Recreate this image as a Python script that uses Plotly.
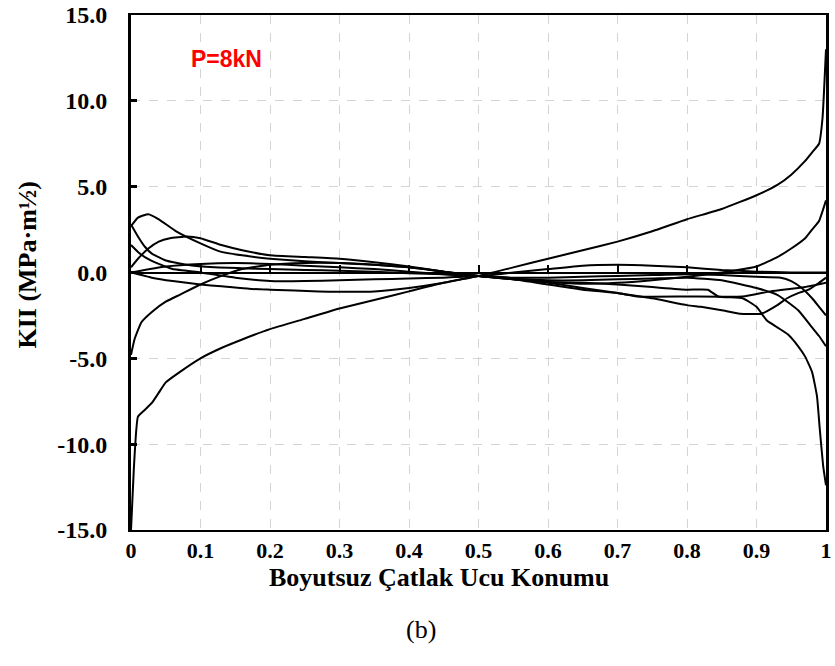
import plotly.graph_objects as go

# x tick labels
x_ticks = [0, 0.1, 0.2, 0.3, 0.4, 0.5, 0.6, 0.7, 0.8, 0.9, 1.0]
x_tick_text = ["0", "0.1", "0.2", "0.3", "0.4", "0.5", "0.6", "0.7", "0.8", "0.9", "1"]
y_ticks = [-15, -10, -5, 0, 5, 10, 15]
y_tick_text = ["-15.0", "-10.0", "-5.0", "0.0", "5.0", "10.0", "15.0"]

# curve A: -15 -> 13
x_a = [0, 0.004, 0.01, 0.02, 0.03, 0.04, 0.05, 0.07, 0.1, 0.13, 0.16, 0.2, 0.25, 0.3, 0.35, 0.4,
       0.45, 0.5, 0.55, 0.6, 0.65, 0.7, 0.75, 0.8, 0.85, 0.9, 0.93, 0.95, 0.97, 0.98, 0.99, 0.995, 1.0]
y_a = [-15, -11.5, -8.4, -8.0, -7.6, -7.0, -6.4, -5.8, -5.0, -4.4, -3.9, -3.3, -2.7, -2.1, -1.6, -1.1,
       -0.6, -0.2, 0.3, 0.8, 1.3, 1.8, 2.4, 3.1, 3.7, 4.5, 5.1, 5.7, 6.5, 7.0, 7.5, 9.0, 13.0]

# curve B: -4.8 -> 4.2
x_b = [0, 0.005, 0.015, 0.03, 0.05, 0.07, 0.1, 0.13, 0.16, 0.2, 0.25, 0.3, 0.35, 0.4, 0.45, 0.5,
       0.55, 0.6, 0.65, 0.7, 0.75, 0.8, 0.85, 0.9, 0.93, 0.95, 0.97, 0.98, 0.99, 1.0]
y_b = [-4.8, -3.9, -2.9, -2.3, -1.7, -1.3, -0.7, -0.2, 0.2, 0.45, 0.55, 0.55, 0.45, 0.3, 0.05, -0.2,
       -0.4, -0.55, -0.65, -0.6, -0.45, -0.25, 0.0, 0.35, 0.9, 1.4, 2.0, 2.5, 3.0, 4.2]

# curve C: peak 3.4 near the left end, -12.4 at the right end
x_c = [0, 0.01, 0.025, 0.04, 0.065, 0.1, 0.13, 0.16, 0.2, 0.25, 0.3, 0.35, 0.4, 0.45, 0.5, 0.55,
       0.6, 0.65, 0.7, 0.75, 0.8, 0.83, 0.845, 0.88, 0.9, 0.915, 0.93, 0.945, 0.96, 0.97, 0.98,
       0.987, 0.991, 0.996, 1.0]
y_c = [2.7, 3.2, 3.4, 3.1, 2.4, 1.7, 1.2, 1.0, 0.8, 0.65, 0.55, 0.45, 0.3, 0.05, -0.2, -0.4,
       -0.55, -0.6, -0.7, -0.85, -1.0, -1.0, -1.4, -1.5, -2.0, -2.8, -3.2, -3.6, -4.3, -4.9, -5.8,
       -7.2, -9.1, -11.3, -12.4]

# curve D: 0.3 -> hump 2.1 -> -4.3
x_d = [0, 0.01, 0.025, 0.04, 0.056, 0.08, 0.1, 0.13, 0.16, 0.2, 0.25, 0.3, 0.35, 0.4, 0.45, 0.5,
       0.55, 0.6, 0.65, 0.7, 0.75, 0.8, 0.85, 0.9, 0.93, 0.96, 0.98, 0.99, 1.0]
y_d = [0.3, 0.8, 1.4, 1.8, 2.0, 2.1, 2.0, 1.6, 1.3, 1.0, 0.9, 0.8, 0.6, 0.35, 0.05, -0.2,
       -0.35, -0.45, -0.45, -0.4, -0.35, -0.3, -0.45, -0.9, -1.3, -2.2, -3.2, -3.7, -4.3]

# curve E: 2.8 -> -2.5
x_e = [0, 0.01, 0.02, 0.03, 0.05, 0.08, 0.12, 0.16, 0.2, 0.25, 0.3, 0.35, 0.4, 0.45, 0.5, 0.55,
       0.6, 0.65, 0.7, 0.75, 0.8, 0.85, 0.9, 0.935, 0.95, 0.965, 0.98, 0.99, 1.0]
y_e = [2.8, 2.1, 1.5, 1.1, 0.7, 0.45, 0.3, 0.25, 0.2, 0.15, 0.1, 0.05, -0.05, -0.1, -0.2, -0.3,
       -0.3, -0.25, -0.2, -0.15, -0.1, -0.15, -0.25, -0.3, -0.5, -0.9, -1.5, -2.0, -2.5]

# curve F: 1.6 -> dip -2.4 -> -0.3
x_f = [0, 0.01, 0.02, 0.04, 0.06, 0.1, 0.15, 0.2, 0.25, 0.3, 0.35, 0.4, 0.45, 0.5, 0.55, 0.6,
       0.65, 0.7, 0.75, 0.8, 0.82, 0.85, 0.876, 0.907, 0.93, 0.944, 0.96, 0.975, 0.99, 1.0]
y_f = [1.6, 1.2, 0.9, 0.5, 0.2, 0.0, -0.3, -0.5, -0.5, -0.45, -0.4, -0.35, -0.3, -0.2, -0.35, -0.6,
       -0.9, -1.2, -1.5, -1.9, -2.0, -2.2, -2.4, -2.4, -1.9, -1.5, -1.2, -1.0, -0.6, -0.3]

# curve G: near zero, small hump around 0.7
x_g = [0, 0.05, 0.1, 0.15, 0.2, 0.25, 0.3, 0.35, 0.4, 0.45, 0.5, 0.55, 0.6, 0.65, 0.7, 0.75,
       0.8, 0.85, 0.9, 0.95, 1.0]
y_g = [0.0, 0.35, 0.5, 0.55, 0.5, 0.4, 0.3, 0.2, 0.05, -0.1, -0.2, 0.0, 0.2, 0.4, 0.45, 0.4,
       0.3, 0.15, 0.05, 0.0, 0.0]

# curve H: 0 -> plateau -1.1 -> plateau -1.4
x_h = [0, 0.03, 0.06, 0.1, 0.13, 0.17, 0.2, 0.27, 0.35, 0.4, 0.45, 0.5, 0.55, 0.6, 0.65, 0.7,
       0.73, 0.8, 0.88, 0.92, 0.95, 0.97, 1.0]
y_h = [0.0, -0.3, -0.5, -0.7, -0.8, -0.95, -1.0, -1.1, -1.1, -0.9, -0.6, -0.2, -0.4, -0.7, -1.0, -1.2,
       -1.4, -1.4, -1.4, -1.1, -0.95, -0.85, -0.6]

curves = [(x_a, y_a), (x_b, y_b), (x_c, y_c), (x_d, y_d),
          (x_e, y_e), (x_f, y_f), (x_g, y_g), (x_h, y_h)]

serif = "Liberation Serif"

fig = go.Figure()
for xs, ys in curves:
    fig.add_trace(go.Scatter(x=xs, y=ys, mode="lines",
                             line=dict(color="black", width=2, shape="spline", smoothing=0.4),
                             showlegend=False, hoverinfo="skip"))

# empty trace so the crossing axis (ticks on y=0) is drawn
fig.add_trace(go.Scatter(x=[], y=[], xaxis="x2", yaxis="y", showlegend=False))

fig.update_layout(
    width=835, height=666,
    margin=dict(l=131, r=9, t=15, b=136),
    paper_bgcolor="white", plot_bgcolor="white",
    xaxis=dict(
        range=[0, 1], tickvals=x_ticks, ticktext=x_tick_text, automargin=False,
        showgrid=True, gridcolor="#d4d4d4", griddash="dash", gridwidth=1,
        showline=True, linecolor="black", linewidth=2, mirror=True,
        ticks="", zeroline=False, ticklabeloverflow="allow",
        tickfont=dict(family=serif, size=22, color="black", weight="bold"),
    ),
    xaxis2=dict(
        range=[0, 1], overlaying="x", anchor="free", position=0.5, side="bottom",
        tickvals=x_ticks[1:-1], showticklabels=False, showgrid=False, zeroline=False,
        showline=True, linecolor="black", linewidth=1.5, automargin=False,
        ticks="inside", ticklen=7, tickwidth=1.5, tickcolor="black",
    ),
    yaxis=dict(
        range=[-15, 15], tickvals=y_ticks, ticktext=y_tick_text, automargin=False,
        showgrid=True, gridcolor="#d4d4d4", griddash="dash", gridwidth=1,
        showline=True, linecolor="black", linewidth=3, mirror=True,
        ticks="inside", ticklen=6, tickwidth=3, tickcolor="black",
        zeroline=False, ticklabelstandoff=16, ticklabeloverflow="allow",
        tickfont=dict(family=serif, size=24, color="black", weight="bold"),
    ),
    annotations=[
        dict(text="KII (MPa·m½)", x=-0.1496, y=0.5155, xref="paper", yref="paper",
             textangle=-90, showarrow=False, xanchor="center", yanchor="middle",
             font=dict(family=serif, size=26, color="black", weight="bold")),
        dict(text="Boyutsuz Çatlak Ucu Konumu", x=0.443, y=-0.093, xref="paper", yref="paper",
             showarrow=False, xanchor="center", yanchor="middle",
             font=dict(family=serif, size=26, color="black", weight="bold")),
        dict(text="P=8kN", x=0.137, y=0.915, xref="paper", yref="paper",
             showarrow=False, xanchor="center", yanchor="middle",
             font=dict(family="Liberation Sans", size=23, color="#ff0000", weight="bold")),
        dict(text="(b)", x=0.417, y=-0.194, xref="paper", yref="paper",
             showarrow=False, xanchor="center", yanchor="middle",
             font=dict(family=serif, size=26, color="black")),
    ],
)

# drop the default 8px page margin so the figure fills the window exactly
fig.write_html("out.html", config={"displayModeBar": False},
               post_script="document.body.style.margin = '0';")
